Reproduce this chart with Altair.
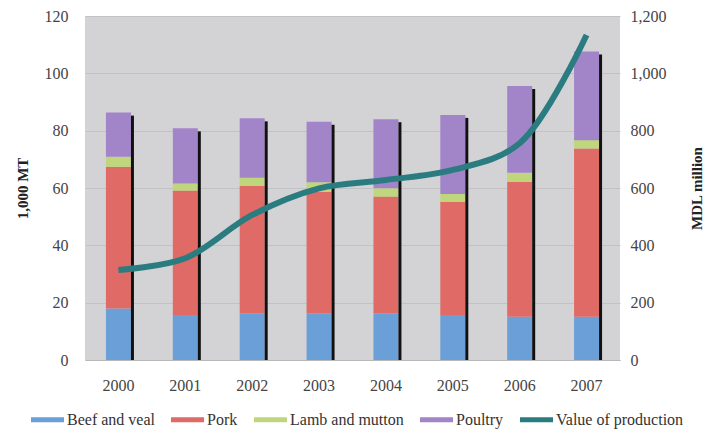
import altair as alt
import pandas as pd

years = ["2000", "2001", "2002", "2003", "2004", "2005", "2006", "2007"]
beef = [18.0, 15.7, 16.3, 16.3, 16.3, 15.7, 15.1, 15.1]
pork = [49.4, 43.4, 44.4, 42.4, 40.7, 39.5, 47.1, 58.7]
lamb = [3.5, 2.5, 2.9, 3.3, 2.9, 2.7, 3.1, 2.9]
poultry = [15.4, 19.2, 20.7, 21.1, 24.1, 27.6, 30.3, 30.9]
value_prod = [314, 355, 506, 599, 628, 663, 756, 1134]

series_names = ["Beef and veal", "Pork", "Lamb and mutton", "Poultry", "Value of production"]
series_colors = ["#6A9FD8", "#E06A66", "#BFD67C", "#A285C8", "#2B7C80"]

rows = []
for i, y in enumerate(years):
    for order, (name, vals) in enumerate(zip(series_names[:4], [beef, pork, lamb, poultry])):
        rows.append({"year": y, "series": name, "value": vals[i], "order": order})
bars_df = pd.DataFrame(rows)
tot_df = pd.DataFrame({"year": years,
                       "total": [b + p + l + q for b, p, l, q in zip(beef, pork, lamb, poultry)]})
line_df = pd.DataFrame({"year": years, "value": value_prod, "series": "Value of production"})

font = "Liberation Serif"

color_scale = alt.Scale(domain=series_names, range=series_colors)
x_enc = alt.X("year:N", scale=alt.Scale(paddingInner=0.6, paddingOuter=0.3),
              axis=alt.Axis(title=None, labelAngle=0, labelPadding=17, ticks=False,
                            domainColor="#B8B8B8", labelFont=font, labelFontSize=16,
                            labelColor="#444444"))

bars = alt.Chart(bars_df).mark_bar(size=25).encode(
    x=x_enc,
    y=alt.Y("value:Q", stack="zero",
            scale=alt.Scale(domain=[0, 120]),
            axis=alt.Axis(title="1,000 MT", values=[0, 20, 40, 60, 80, 100, 120],
                          titleFont=font, titleFontSize=15, titleFontWeight="bold",
                          titleColor="#222222", titlePadding=14,
                          labelFont=font, labelFontSize=16, labelColor="#444444",
                          labelPadding=17, ticks=False, domain=False,
                          gridColor="#C2C2C4", gridWidth=1)),
    color=alt.Color("series:N", scale=color_scale,
                    legend=alt.Legend(title=None, orient="none", direction="horizontal",
                                      legendX=-54, legendY=387,
                                      labelFont=font, labelFontSize=16, labelColor="#333333",
                                      symbolType="M-1,-0.15H1V0.15H-1Z", symbolSize=1089,
                                      symbolStrokeWidth=0, columnPadding=16,
                                      labelOffset=3)),
    order=alt.Order("order:Q"),
)

shadow = alt.Chart(tot_df).mark_bar(size=3, xOffset=14, yOffset=3, color="#111111", clip=True).encode(
    x=alt.X("year:N"),
    y=alt.Y("total:Q"),
)

line = alt.Chart(line_df).mark_line(strokeWidth=6, interpolate="catmull-rom").encode(
    x=alt.X("year:N"),
    y=alt.Y("value:Q", scale=alt.Scale(domain=[0, 1200]),
            axis=alt.Axis(title="MDL million", orient="right", format=",.0f",
                          values=[0, 200, 400, 600, 800, 1000, 1200],
                          titleFont=font, titleFontSize=15, titleFontWeight="bold",
                          titleColor="#222222", titleAngle=270, titlePadding=38,
                          labelFont=font, labelFontSize=16, labelColor="#444444",
                          labelPadding=10, ticks=False, domain=False, grid=False)),
    color=alt.Color("series:N", scale=color_scale),
)

left = alt.layer(bars, shadow).resolve_scale(y="shared")
chart = alt.layer(left, line).resolve_scale(y="independent").properties(
    width=535, height=344,
    autosize=alt.AutoSizeParams(type="none"),
    padding={"left": 77, "top": 8, "right": 85, "bottom": 71},
).configure_view(fill="#D3D3D5", stroke=None)

chart.save("out.html", embed_options={"renderer": "svg", "actions": False})
